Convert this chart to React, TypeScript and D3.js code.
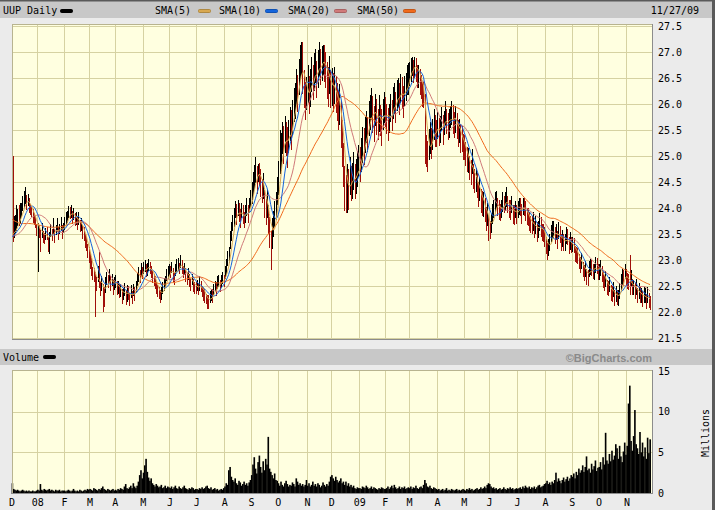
import React from "react";
import * as d3 from "d3";

const monthLabels = ["D","08","F","M","A","M","J","J","A","S","O","N","D","09","F","M","A","M","J","J","A","S","O","N"];
const monthDays = [20,21,20,20,22,21,21,22,21,21,23,19,22,20,19,22,21,20,22,22,21,21,22,19];
const priceTicks = [27.5,27.0,26.5,26.0,25.5,25.0,24.5,24.0,23.5,23.0,22.5,22.0,21.5];
const volumeTicks = [0,5,10,15];
const smaPeriods = [50,20,10,5];
const smaColors: Record<number,string> = {5:"#d8a850",10:"#1464dc",20:"#d07a7a",50:"#f06a1c"};

// closes of the 50 sessions before the first shown bar (feed the moving averages)
const preCloses = [24.45,24.40,24.38,24.30,24.35,24.28,24.20,24.25,24.18,24.10,24.15,24.08,24.12,24.05,24.00,24.05,23.98,23.92,23.95,23.88,
23.85,23.90,23.82,23.78,23.80,23.72,23.68,23.70,23.62,23.65,23.58,23.55,23.60,23.52,23.48,23.50,23.45,23.42,23.48,23.40,
23.45,23.38,23.42,23.35,23.40,23.45,23.52,23.48,23.55,23.50];

const closes = [
23.45,23.55,23.62,23.70,23.78,23.75,23.85,23.95,24.05,24.12,24.18,24.10,24.15,24.05,23.98,23.92,23.85,23.80,23.72,23.60,
23.62,23.55,23.50,23.58,23.45,23.40,23.52,23.48,23.35,23.42,23.55,23.50,23.62,23.48,23.58,23.65,23.52,23.60,23.68,23.55,23.62,
23.70,23.78,23.85,23.92,23.88,23.95,23.82,23.90,23.75,23.80,23.72,23.78,23.65,23.70,23.55,23.48,23.38,23.30,23.18,23.10,
23.00,22.85,22.75,22.70,22.62,22.55,22.70,22.60,22.48,22.55,22.40,22.30,22.52,22.65,22.58,22.70,22.55,22.62,22.48,22.55,
22.60,22.45,22.50,22.38,22.42,22.30,22.35,22.45,22.28,22.40,22.35,22.25,22.38,22.30,22.42,22.35,22.48,22.60,22.72,22.68,22.80,22.75,
22.85,22.90,22.78,22.82,22.92,22.85,22.75,22.70,22.62,22.55,22.48,22.40,22.35,22.30,22.38,22.45,22.52,22.60,22.70,22.75,22.80,
22.78,22.85,22.70,22.65,22.80,22.88,22.92,22.85,22.95,22.88,22.78,22.82,22.70,22.65,22.72,22.60,22.55,22.62,22.50,22.48,22.45,
22.50,22.45,22.55,22.48,22.40,22.35,22.30,22.25,22.20,22.18,22.28,22.35,22.30,22.42,22.50,22.45,22.55,22.60,22.52,22.58,22.65,22.62,
22.75,22.85,23.00,23.10,23.35,23.55,23.70,23.80,23.95,23.85,24.00,23.90,23.80,23.95,23.85,23.75,23.90,24.00,23.88,24.05,24.15,
24.30,24.45,24.60,24.70,24.55,24.75,24.65,24.50,24.35,24.40,24.10,23.95,24.05,23.80,23.55,23.35,23.50,23.70,23.85,24.05,24.30,
24.60,24.95,25.10,25.35,25.20,25.45,25.30,25.15,25.40,25.60,25.50,25.75,25.95,26.10,26.30,26.20,26.55,26.75,26.90,26.60,26.30,26.05,26.20,
26.40,26.15,26.35,26.55,26.45,26.60,26.70,26.50,26.65,26.85,26.75,26.80,26.85,26.80,26.65,26.50,26.40,26.55,26.30,
26.35,26.20,26.40,26.15,26.05,25.85,26.00,25.60,25.20,24.80,24.40,24.25,24.50,24.35,24.60,24.45,24.55,24.70,24.50,24.65,24.75,24.90,
24.85,25.00,25.25,25.15,25.40,25.55,25.45,25.70,25.85,26.00,25.80,25.65,25.90,25.75,25.60,25.85,25.70,25.55,25.80,25.95,
25.85,25.70,25.60,25.75,25.90,25.80,26.00,26.10,25.95,26.15,26.25,26.10,26.30,26.20,26.05,26.25,26.35,26.45,26.50,
26.60,26.70,26.75,26.65,26.80,26.70,26.55,26.60,26.45,26.35,26.25,26.20,25.35,25.10,25.00,25.20,25.35,25.25,25.40,25.60,25.50,25.45,
25.60,25.45,25.55,25.70,25.50,25.65,25.80,25.70,25.55,25.65,25.75,25.85,25.70,25.60,25.75,25.55,25.45,25.50,25.35,25.30,25.20,
25.15,25.05,24.90,24.95,24.75,24.70,24.85,24.65,24.50,24.55,24.40,24.30,24.35,24.15,24.05,24.10,23.95,23.80,23.85,23.65,
23.55,23.70,23.85,24.00,24.10,24.15,24.05,23.95,23.90,24.00,24.10,24.05,24.15,24.20,24.05,24.00,23.95,24.05,23.90,23.85,23.95,23.90,
23.95,24.05,24.00,23.90,24.05,24.00,23.95,23.85,23.80,23.75,23.70,23.65,23.75,23.60,23.65,23.55,23.60,23.70,23.65,23.55,23.50,23.45,
23.30,23.15,23.20,23.35,23.50,23.55,23.60,23.45,23.50,23.40,23.55,23.45,23.35,23.40,23.30,23.35,23.45,23.40,23.30,23.35,23.25,
23.30,23.25,23.15,23.10,23.05,23.00,22.90,22.95,22.85,22.75,22.80,22.70,22.65,22.80,22.90,22.85,22.75,22.80,22.90,22.85,22.80,
22.80,22.85,22.70,22.65,22.55,22.60,22.50,22.45,22.50,22.40,22.35,22.40,22.30,22.35,22.25,22.30,22.40,22.55,22.70,22.65,22.75,22.70,
22.60,22.55,22.50,22.65,22.45,22.50,22.40,22.45,22.35,22.40,22.30,22.35,22.25,22.30,22.35,22.20,22.30,22.25,22.15
];

// daily high above close and low below close, in cents
const upCents = [
155,30,25,35,20,30,25,15,18,20,22,15,12,15,10,12,14,10,12,10,
10,12,8,14,10,12,9,15,10,12,14,10,18,12,10,15,12,10,14,12,10,
12,15,10,12,14,10,12,10,15,12,10,14,12,10,12,15,12,14,12,15,
15,18,12,14,15,12,18,55,12,15,14,18,15,12,14,12,15,12,14,12,
12,14,10,15,12,14,12,10,14,12,15,12,14,10,12,14,12,15,14,12,15,12,
12,10,14,12,10,12,14,10,12,14,10,12,14,12,10,12,14,10,12,14,12,
10,12,14,10,12,14,12,10,14,12,10,12,14,10,12,14,10,12,14,10,12,
12,10,14,12,10,12,14,10,12,14,12,10,14,12,10,12,14,12,10,14,12,10,
14,16,18,15,20,18,16,20,18,22,16,20,18,15,20,18,16,20,18,15,20,
20,25,22,28,25,10,22,25,20,28,25,22,30,25,28,20,30,25,28,25,30,
30,55,35,30,38,32,35,40,30,35,38,32,35,30,38,35,32,38,30,59,35,38,32,
35,38,32,35,30,38,35,32,38,35,30,32,28,33,35,30,32,38,35,
35,40,32,38,35,40,38,45,50,45,40,38,35,40,38,35,32,38,35,30,35,32,
32,35,30,38,35,32,30,35,32,30,35,32,30,35,30,32,28,35,30,28,
28,30,32,25,30,28,32,30,28,32,25,30,28,32,30,28,25,30,28,
20,18,15,20,10,18,20,15,22,20,18,22,85,30,28,32,30,28,32,30,28,25,
25,28,22,25,28,22,25,20,28,25,22,20,28,25,22,28,25,22,25,28,22,
25,22,28,20,25,22,28,20,25,22,28,20,25,22,28,20,25,22,25,22,
20,18,22,15,20,18,15,20,18,15,20,18,15,20,18,15,20,18,15,20,18,15,
18,15,20,18,15,20,18,15,20,18,15,20,18,15,20,18,15,20,18,15,20,18,
15,18,20,15,18,20,15,18,20,15,18,20,15,18,20,15,18,20,15,18,20,
15,18,12,15,18,12,15,18,12,15,18,12,15,18,12,15,18,12,15,18,12,
12,15,18,12,15,18,12,15,18,12,15,18,12,15,18,12,15,18,12,15,18,12,
15,18,60,15,18,12,15,18,12,15,18,12,15,18,12,15,18,12,15
];

const downCents = [
10,12,10,14,12,10,15,12,10,12,10,14,12,15,12,10,14,12,10,14,
85,12,35,15,12,10,14,10,20,30,10,14,12,15,10,12,14,10,12,15,10,
12,10,14,12,10,15,12,14,10,12,14,10,12,15,14,12,15,12,14,15,
18,15,14,12,72,15,12,14,18,15,40,20,15,14,12,15,14,12,15,12,
14,12,15,12,14,15,12,14,15,20,12,14,12,15,12,14,12,10,14,12,10,12,
12,14,10,12,14,12,10,14,12,10,14,12,10,12,14,10,12,14,10,12,10,
12,10,12,14,10,12,14,12,10,14,12,10,12,14,10,12,14,10,12,14,10,
10,12,14,10,12,14,12,10,14,12,10,14,12,10,12,14,10,12,14,10,12,14,
12,14,12,16,14,18,15,16,14,18,15,16,18,15,16,14,18,15,16,14,15,
22,20,25,22,28,25,22,28,25,22,30,28,25,30,32,54,28,25,22,28,25,
35,30,38,32,35,40,30,38,35,32,38,35,30,38,32,35,38,30,35,40,38,35,32,
38,35,40,32,38,35,30,38,35,32,38,35,30,38,35,40,46,35,38,
38,35,40,32,38,35,40,45,42,40,45,35,60,38,35,32,38,35,32,38,35,30,
35,30,38,32,35,30,38,32,35,30,35,38,32,35,30,38,32,35,30,32,
30,28,32,30,25,32,28,30,32,28,30,32,28,30,32,28,30,28,32,
25,28,22,25,30,28,25,30,28,25,30,28,50,32,30,28,32,30,28,30,32,28,
28,25,30,22,28,25,22,28,25,30,22,25,28,25,30,22,28,25,30,22,28,
22,25,20,28,22,25,20,28,22,25,20,28,22,25,20,28,22,25,20,28,
15,18,15,20,18,15,20,18,15,20,18,15,20,18,15,20,18,15,20,18,15,20,
15,18,15,20,18,15,20,18,15,20,18,15,20,18,15,20,18,15,20,18,15,20,
18,15,12,18,15,12,18,15,12,18,15,12,18,15,12,18,15,12,18,15,12,
15,12,18,15,12,18,15,12,18,15,12,18,15,12,18,15,12,18,15,12,18,
18,15,12,18,15,12,18,15,12,18,15,12,18,15,12,18,15,12,18,15,12,18,
15,12,18,15,12,18,15,12,18,15,12,18,15,12,18,15,12,18,12
];

// daily volume, millions of shares
const volumes = [
1.2,0.5,0.4,0.3,0.4,0.3,0.2,0.3,0.4,0.3,0.2,0.3,0.2,0.3,0.2,0.2,0.3,0.2,0.2,0.3,
0.4,0.3,1.1,0.4,0.3,0.5,0.4,0.3,0.4,0.5,0.3,0.4,0.3,0.2,0.4,0.3,0.3,0.4,0.2,0.3,0.3,
0.3,0.2,0.3,0.4,0.3,0.2,0.3,0.5,0.3,0.2,0.3,0.2,0.4,0.3,0.2,0.3,0.4,0.3,0.5,0.4,
0.5,0.4,0.3,0.6,0.5,0.4,0.3,0.5,0.4,0.6,0.8,0.5,0.4,0.3,0.5,0.4,0.3,0.4,0.5,0.3,
0.4,0.3,0.5,0.4,0.6,0.5,0.4,0.8,1.1,0.6,0.5,0.7,0.9,0.6,1.2,0.8,0.6,0.9,1.4,2.2,2.8,1.8,
2.5,3.4,4.2,2.6,1.9,1.5,1.8,1.2,1.0,0.8,1.1,0.9,0.7,0.8,1.0,0.6,0.7,0.9,0.6,0.8,0.7,
0.6,0.8,0.5,0.7,0.9,0.6,0.5,0.8,0.6,0.5,0.7,0.9,0.6,0.5,0.4,0.6,0.5,0.7,0.6,0.4,0.5,
0.5,0.4,0.6,0.5,0.7,0.5,0.6,0.8,0.9,0.6,0.5,0.7,0.4,0.5,0.6,0.4,0.5,0.3,0.4,0.5,0.4,0.6,
0.8,1.2,1.0,2.8,3.2,2.0,1.6,1.4,1.8,1.2,1.0,1.5,1.3,0.9,1.1,1.4,1.0,1.2,0.9,1.3,1.6,
2.2,3.5,4.4,3.0,2.4,3.8,4.6,3.2,2.5,3.9,2.8,4.2,3.5,6.9,3.0,2.6,2.2,1.8,2.4,1.6,1.5,
1.2,0.9,1.4,1.0,0.8,1.2,1.5,1.1,0.8,1.0,0.9,1.3,1.1,0.8,1.8,1.4,1.0,1.2,0.9,1.1,0.8,1.0,1.6,
0.9,1.2,0.8,1.0,1.4,0.9,1.1,0.8,1.2,1.0,0.7,0.9,1.3,1.0,0.8,1.1,0.9,1.4,2.0,
2.2,1.8,1.5,2.0,1.6,1.3,1.5,1.8,1.2,1.4,1.0,1.4,0.9,1.2,0.8,1.0,0.7,0.9,0.6,0.5,0.7,0.6,
0.6,0.5,0.8,0.7,0.6,0.9,0.7,0.5,0.6,0.8,0.5,0.7,0.6,0.5,0.4,0.6,0.5,0.7,0.6,0.5,
0.5,0.6,0.8,0.5,0.7,0.9,0.6,1.0,0.7,0.5,0.6,0.8,0.5,0.7,0.6,0.8,0.5,0.6,0.7,
0.6,0.8,0.5,0.7,0.6,0.9,0.6,0.5,0.7,0.8,0.6,1.0,1.6,1.2,0.8,0.7,0.9,0.6,0.5,0.7,0.6,0.5,
0.4,0.5,0.3,0.4,0.5,0.3,0.4,0.6,0.3,0.4,0.3,0.5,0.4,0.3,0.4,0.5,0.3,0.4,0.3,0.4,0.5,
0.4,0.3,0.5,0.4,0.6,0.4,0.5,0.3,0.4,0.5,0.6,0.4,0.5,0.7,0.5,0.6,0.8,0.6,1.0,1.2,
1.1,0.8,0.6,0.7,0.5,0.6,0.4,0.5,0.6,0.4,0.5,0.7,0.5,0.4,0.6,0.5,0.7,0.5,0.6,0.4,0.5,0.6,
0.5,0.6,0.7,0.5,0.8,0.6,0.9,0.7,0.6,0.8,0.5,0.7,0.6,0.8,0.5,0.7,0.9,1.0,0.7,0.8,0.9,1.1,
1.2,1.5,1.1,1.3,1.0,1.4,1.2,1.6,2.5,1.4,1.8,1.5,1.2,1.6,1.9,1.4,1.7,2.0,1.5,1.8,2.2,
2.0,2.4,1.8,2.6,2.2,3.0,2.5,2.8,3.4,2.6,3.2,4.5,2.8,3.0,2.5,3.6,2.9,3.3,4.0,2.7,3.1,
3.2,3.8,2.9,4.4,3.5,7.4,4.0,3.6,4.8,3.9,5.2,4.1,4.6,6.0,5.5,4.2,5.8,4.5,3.8,5.1,6.2,4.7,
5.8,11.0,13.2,6.4,5.2,7.0,10.2,6.0,5.5,4.8,7.5,5.0,6.2,4.5,5.6,4.2,6.8,4.9,6.6
];

const MONO = "'DejaVu Sans Mono', monospace";
const PLOT = { l: 12, r: 653, t: 24, b: 340 };
const VPLOT = { t: 370, b: 494 };
const BG = "#ebebeb";
const BAND = "#c8c8c8";
const FILL = "#ffffe0";
const GRID = "#d6d2a2";

export default function App() {
  const n = Math.min(closes.length, upCents.length, downCents.length, volumes.length);
  const x = d3.scaleLinear().domain([0, 501]).range([12.24, 650]);
  const step = x(1) - x(0);
  const y = d3.scaleLinear().domain([21.5, 27.5]).range([338, 26]);
  const yv = d3.scaleLinear().domain([0, 15]).range([493, 371]);

  const all = preCloses.concat(closes);
  const off = preCloses.length;
  const sma = (p: number) =>
    closes.map((_, i) => d3.mean(all.slice(i + off - p + 1, i + off + 1)) as number);

  const starts: number[] = [];
  let acc = 0;
  monthDays.forEach((d) => { starts.push(acc); acc += d; });

  const line = d3.line<number>().x((_, i) => x(i)).y((v) => y(v));

  const bars = [];
  for (let i = 0; i < n; i++) {
    const c = closes[i];
    const prev = i === 0 ? preCloses[preCloses.length - 1] : closes[i - 1];
    const hi = c + upCents[i] / 100;
    const lo = c - downCents[i] / 100;
    const xx = Math.max(13, Math.round(x(i))) + 0.5;
    bars.push(
      <line key={i} x1={xx} x2={xx} y1={y(hi)} y2={y(lo)}
        stroke={c < prev ? "#a0100a" : "#000"} strokeWidth={1} />
    );
  }

  const legend = [
    { label: "SMA(5)", tx: 155, sx: 198, c: smaColors[5] },
    { label: "SMA(10)", tx: 219, sx: 265, c: smaColors[10] },
    { label: "SMA(20)", tx: 288, sx: 334, c: smaColors[20] },
    { label: "SMA(50)", tx: 357, sx: 403, c: smaColors[50] },
  ];

  const gx = (k: number) => Math.round(x(starts[k]) - step / 2) + 0.5;

  return (
    <svg width={715} height={510} style={{ position: "absolute", left: 0, top: 0, display: "block" }}
      fontFamily={MONO}>
      <rect x={0} y={0} width={715} height={510} fill={BG} />
      {/* header band */}
      <rect x={0} y={0} width={715} height={18} fill={BAND} />
      <rect x={0} y={0} width={715} height={1.5} fill="#5a5a5a" />
      <rect x={712} y={0} width={3} height={510} fill="#5a5a5a" />
      <text x={3} y={14} fontSize={10}>UUP Daily</text>
      <rect x={60.5} y={9.5} width={12} height={3} rx={1} fill="#000" stroke="#000" strokeWidth={1} />
      {legend.map((l) => (
        <g key={l.label}>
          <text x={l.tx} y={14} fontSize={10}>{l.label}</text>
          <rect x={l.sx + 0.5} y={9.5} width={12} height={3} rx={1} fill={l.c}
            stroke={d3.color(l.c)!.darker(0.6).toString()} strokeWidth={1} />
        </g>
      ))}
      <text x={699} y={14} fontSize={10} textAnchor="end">11/27/09</text>

      {/* price panel */}
      <rect x={PLOT.l} y={PLOT.t} width={PLOT.r - PLOT.l} height={PLOT.b - PLOT.t} fill={FILL} />
      <g shapeRendering="crispEdges">
        {priceTicks.map((t) => (
          <line key={t} x1={PLOT.l} x2={PLOT.r} y1={Math.round(y(t)) + 0.5} y2={Math.round(y(t)) + 0.5}
            stroke={GRID} />
        ))}
        {starts.slice(1).map((s, k) => (
          <line key={s} x1={gx(k + 1)} x2={gx(k + 1)} y1={PLOT.t} y2={PLOT.b} stroke={GRID} />
        ))}
        <line x1={PLOT.l + 0.5} x2={PLOT.l + 0.5} y1={PLOT.t} y2={PLOT.b} stroke="#b8b490" />
        <line x1={PLOT.l} x2={PLOT.r} y1={PLOT.t + 0.5} y2={PLOT.t + 0.5} stroke="#b8b490" />
        {bars}
      </g>
      {smaPeriods.map((p) => (
        <path key={p} d={line(sma(p)) || ""} fill="none" stroke={smaColors[p]} strokeWidth={1} />
      ))}
      <g shapeRendering="crispEdges" fill="none">
        <line x1={PLOT.r - 0.5} x2={PLOT.r - 0.5} y1={PLOT.t} y2={PLOT.b} stroke="#8c8c8c" />
        <line x1={PLOT.l} x2={PLOT.r} y1={PLOT.b - 0.5} y2={PLOT.b - 0.5} stroke="#8c8c8c" />
      </g>
      {priceTicks.map((t) => (
        <text key={t} x={658} y={y(t)} dy="0.35em" fontSize={10}>{t.toFixed(1)}</text>
      ))}

      {/* volume band */}
      <rect x={0} y={349} width={712} height={16} fill={BAND} />
      <text x={3} y={361} fontSize={10}>Volume</text>
      <rect x={43.5} y={355.5} width={12} height={3} rx={1} fill="#000" stroke="#000" strokeWidth={1} />
      <text x={652} y={361.5} fontSize={11} fontWeight="bold" textAnchor="end"
        fontFamily="'Liberation Sans', Arial, sans-serif" fill="#8a8a8a">©BigCharts.com</text>

      {/* volume panel */}
      <rect x={PLOT.l} y={VPLOT.t} width={PLOT.r - PLOT.l} height={VPLOT.b - VPLOT.t} fill={FILL} />
      <g shapeRendering="crispEdges">
        {[5, 10].map((t) => (
          <line key={t} x1={PLOT.l} x2={PLOT.r} y1={Math.round(yv(t)) + 0.5} y2={Math.round(yv(t)) + 0.5}
            stroke={GRID} />
        ))}
        {starts.slice(1).map((s, k) => (
          <line key={s} x1={gx(k + 1)} x2={gx(k + 1)} y1={VPLOT.t} y2={VPLOT.b} stroke={GRID} />
        ))}
      </g>
      <g>
        {volumes.slice(0, n).map((v, i) => (
          <rect key={i} x={x(i) - step / 2} y={yv(v)} width={step + 0.35} height={yv(0) - yv(v) + 1} fill="#000" />
        ))}
      </g>
      <g shapeRendering="crispEdges" fill="none">
        <line x1={PLOT.l + 0.5} x2={PLOT.l + 0.5} y1={VPLOT.t} y2={VPLOT.b} stroke="#b8b490" />
        <line x1={PLOT.l} x2={PLOT.r} y1={VPLOT.t + 0.5} y2={VPLOT.t + 0.5} stroke="#b8b490" />
        <line x1={PLOT.r - 0.5} x2={PLOT.r - 0.5} y1={VPLOT.t} y2={VPLOT.b} stroke="#8c8c8c" />
        <line x1={PLOT.l} x2={PLOT.r} y1={VPLOT.b - 0.5} y2={VPLOT.b - 0.5} stroke="#8c8c8c" />
      </g>
      {volumeTicks.map((t) => (
        <text key={t} x={658} y={yv(t)} dy="0.35em" fontSize={10}>{t}</text>
      ))}
      <text transform="translate(709,433) rotate(-90)" fontSize={10} textAnchor="middle">Millions</text>

      {/* month labels */}
      {monthLabels.map((m, k) => (
        <text key={k} x={k === 0 ? 12 : x(starts[k])} y={506} fontSize={10} textAnchor="middle">{m}</text>
      ))}
    </svg>
  );
}
